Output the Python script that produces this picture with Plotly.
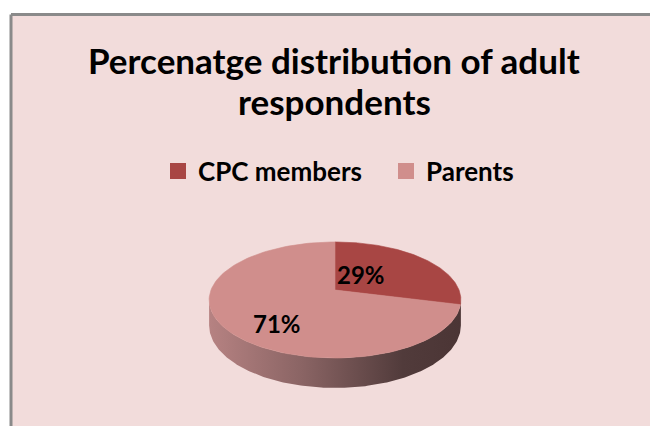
import numpy as np
import plotly.graph_objects as go

# ---- data ----
categories = ["CPC members", "Parents"]
values = [29, 71]
slice_colors = ["#A84644", "#D08E8C"]
title_lines = ["Percenatge distribution of adult", "respondents"]

# ---- geometry of the tilted 3-D disc (pixel space) ----
CX, CY = 335, 290          # centre of the top face
RX, RY = 124, 56.3         # radii of the top face
DEPTH = 24.8               # thickness of the disc
PERSP = 0.172              # perspective strength (front larger than back)
LABEL_POS = [(361, 274), (277, 323)]
TITLE_Y = [60, 101]

W, H = 650, 426
FONT = "Lato"
FRAME_BG = "#F2DCDB"
FRAME_LINE = "#8A8A8A"
FRAME_LEFT, FRAME_TOP = 11, 14.5   # pixel position of the frame's border


def project(theta, drop=0.0):
    """Project a rim point (theta clockwise from the back) onto the page."""
    u = np.sin(theta)
    v = -np.cos(theta)
    s = 1.0 / (1.0 - PERSP * v)
    return CX + RX * u * s, CY + (RY * v + drop) * s


fig = go.Figure()

# side wall of the disc (only the front half is visible)
t0 = np.arccos(-PERSP)
t_side = np.linspace(t0, 2 * np.pi - t0, 200)
xt, yt = project(t_side)
xb, yb = project(t_side[::-1], DEPTH)
fig.add_trace(go.Scatter(
    x=np.concatenate([xt, xb]), y=np.concatenate([yt, yb]),
    mode="lines", fill="toself", line=dict(width=0),
    fillgradient=dict(
        type="horizontal",
        colorscale=[[0, "#B68282"], [0.37, "#8A6464"],
                    [0.77, "#513B3B"], [1, "#4B3535"]],
    ),
    hoverinfo="skip", showlegend=False,
))

# top faces of the slices
total = float(sum(values))
start = 0.0
for name, val, col in zip(categories, values, slice_colors):
    frac = val / total
    th = np.linspace(start * 2 * np.pi, (start + frac) * 2 * np.pi, 120)
    xs, ys = project(th)
    fig.add_trace(go.Scatter(
        x=np.concatenate([[CX], xs, [CX]]),
        y=np.concatenate([[CY], ys, [CY]]),
        mode="lines", fill="toself", fillcolor=col,
        line=dict(width=0.6, color=col),
        name=name, hoverinfo="skip", showlegend=False,
    ))
    start += frac

# legend entries
for name, col in zip(categories, slice_colors):
    fig.add_trace(go.Scatter(
        x=[None], y=[None], mode="markers", name="<b>%s</b>" % name,
        marker=dict(symbol="square", size=17, color=col),
    ))

# percentage labels
for (lx, ly), val in zip(LABEL_POS, values):
    fig.add_annotation(
        x=lx, y=ly, xref="x", yref="y", showarrow=False,
        text="<b>%d%%</b>" % round(val / total * 100),
        font=dict(family=FONT, size=24, color="#000000"),
    )

# chart title, one annotation per line
for line, ty in zip(title_lines, TITLE_Y):
    fig.add_annotation(
        x=334, y=ty, xref="x", yref="y", showarrow=False,
        text="<b>%s</b>" % line,
        font=dict(family=FONT, size=35, color="#000000"),
    )

# chart frame: white page strip above and left of the pink chart area,
# with a grey border along the top and left edges
fx = FRAME_LEFT / W
fy = 1 - FRAME_TOP / H
fig.add_shape(type="rect", xref="paper", yref="paper",
              x0=-0.1, y0=fy, x1=1.1, y1=1.1,
              line=dict(width=0), fillcolor="#FFFFFF", layer="below")
fig.add_shape(type="rect", xref="paper", yref="paper",
              x0=-0.1, y0=-0.1, x1=fx, y1=1.1,
              line=dict(width=0), fillcolor="#FFFFFF", layer="below")
fig.add_shape(type="line", xref="paper", yref="paper",
              x0=fx, y0=fy, x1=1.1, y1=fy,
              line=dict(color=FRAME_LINE, width=3), layer="below")
fig.add_shape(type="line", xref="paper", yref="paper",
              x0=fx, y0=fy, x1=fx, y1=-0.1,
              line=dict(color=FRAME_LINE, width=3), layer="below")
# the chart area runs on past the right edge of the page
fig.add_shape(type="rect", xref="paper", yref="paper",
              x0=0.994, y0=-0.1, x1=1.1, y1=1 - (FRAME_TOP + 2) / H,
              line=dict(width=0), fillcolor=FRAME_BG, layer="above")

fig.update_layout(
    width=W, height=H,
    margin=dict(l=0, r=0, t=0, b=0),
    paper_bgcolor=FRAME_BG, plot_bgcolor="rgba(0,0,0,0)",
    xaxis=dict(range=[0, W], visible=False, fixedrange=True),
    yaxis=dict(range=[H, 0], visible=False, fixedrange=True),
    legend=dict(
        orientation="h", x=158 / W, xanchor="left",
        y=1 - 171 / H, yanchor="middle",
        entrywidth=183, entrywidthmode="pixels",
        font=dict(family=FONT, size=26, color="#000000"),
        bgcolor="rgba(0,0,0,0)", itemclick=False, itemdoubleclick=False,
    ),
    showlegend=True,
)

fig.write_html("out.html", config={"displayModeBar": False})
